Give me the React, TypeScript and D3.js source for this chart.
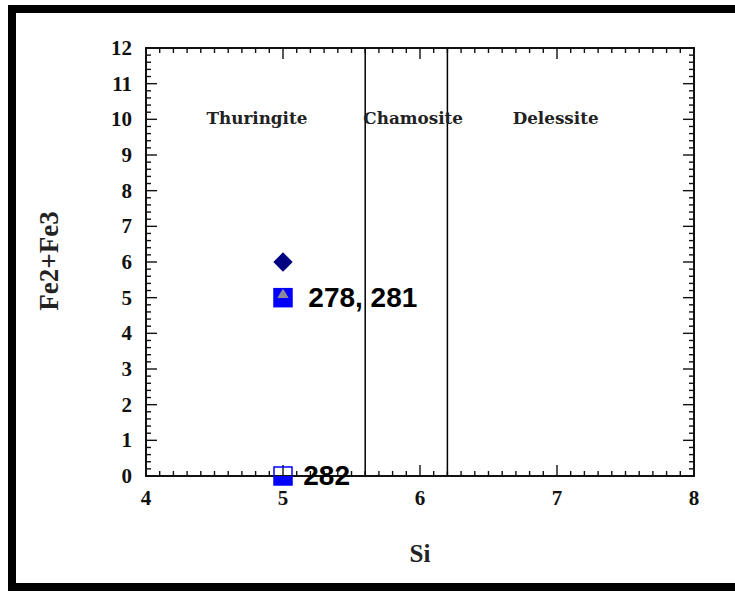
import React from "react";
import * as d3 from "d3";

const xTickValues = [4, 5, 6, 7, 8];
const yTickValues = [0, 1, 2, 3, 4, 5, 6, 7, 8, 9, 10, 11, 12];
const xMinorStep = 0.1;
const yMinorStep = 0.2;

const fieldBoundaries = [5.6, 6.2];
const fieldNames = ["Thuringite", "Chamosite", "Delessite"];
const fieldLabelSi = [4.81, 5.95, 6.99];
const fieldLabelFe = 10;

const diamondSi = [5];
const diamondFe = [6];
const filledSquareSi = [5, 5];
const filledSquareFe = [5, 0];
const openSquareSi = [5, 5];
const openSquareFe = [5, 0];
const triangleSi = [5];
const triangleFe = [5];

const pointLabels = ["278, 281", "282"];
const pointLabelSi = [5.185, 5.148];
const pointLabelFe = [5, 0];

const W = 735;
const H = 592;
const X0 = 146, X1 = 694, Y0 = 476, Y1 = 48;

export default function App() {
  const x = d3.scaleLinear().domain([4, 8]).range([X0, X1]);
  const y = d3.scaleLinear().domain([0, 12]).range([Y0, Y1]);

  const xMinor = d3.range(0, Math.round((8 - 4) / xMinorStep) + 1).map((i) => 4 + i * xMinorStep);
  const yMinor = d3.range(0, Math.round(12 / yMinorStep) + 1).map((i) => i * yMinorStep);
  const isMajor = (v: number) => Math.abs(v - Math.round(v)) < 1e-6;

  const tickColor = "#111";
  const serif = "'Liberation Serif', 'Times New Roman', serif";
  const sans = "'Liberation Sans', Arial, sans-serif";
  const labelSerif = "'DejaVu Serif', serif";

  const sq = 18;
  const diamond = d3.symbol().type(d3.symbolDiamond2).size(240)();

  return (
    <svg width={W} height={H} style={{ position: "absolute", left: 0, top: 0, background: "#fff" }}>
      <rect x={12} y={9} width={1200} height={578} fill="#fff" stroke="#000" strokeWidth={8} />

      {xMinor.map((v, i) => {
        const len = isMajor(v) ? 11 : 5;
        const px = x(v);
        return (
          <g key={"xt" + i} stroke={tickColor} strokeWidth={1.4}>
            <line x1={px} x2={px} y1={Y0} y2={Y0 - len} />
            <line x1={px} x2={px} y1={Y1} y2={Y1 + len} />
          </g>
        );
      })}
      {yMinor.map((v, i) => {
        const len = isMajor(v) ? 11 : 5;
        const py = y(v);
        return (
          <g key={"yt" + i} stroke={tickColor} strokeWidth={1.4}>
            <line x1={X0} x2={X0 + len} y1={py} y2={py} />
            <line x1={X1} x2={X1 - len} y1={py} y2={py} />
          </g>
        );
      })}

      {fieldBoundaries.map((b, i) => (
        <line key={"fb" + i} x1={x(b)} x2={x(b)} y1={y(0)} y2={y(12)} stroke="#000" strokeWidth={1.5} />
      ))}

      <rect x={X0} y={Y1} width={X1 - X0} height={Y0 - Y1} fill="none" stroke="#111" strokeWidth={2} />

      {xTickValues.map((v) => (
        <text key={"xl" + v} x={x(v)} y={Y0 + 29} textAnchor="middle" fontFamily={serif} fontWeight="bold" fontSize={21} fill="#111">
          {v}
        </text>
      ))}
      {yTickValues.map((v) => (
        <text key={"yl" + v} x={X0 - 14} y={y(v) + 7} textAnchor="end" fontFamily={serif} fontWeight="bold" fontSize={21} fill="#111">
          {v}
        </text>
      ))}

      <text x={(X0 + X1) / 2} y={562} textAnchor="middle" fontFamily={serif} fontWeight="bold" fontSize={25} fill="#222">
        Si
      </text>
      <text transform={`translate(58,261) rotate(-90)`} textAnchor="middle" fontFamily={serif} fontWeight="bold" fontSize={27} fill="#222">
        Fe2+Fe3
      </text>

      {fieldNames.map((n, i) => (
        <text key={"fn" + i} x={x(fieldLabelSi[i])} y={y(fieldLabelFe) + 5} textAnchor="middle" fontFamily={labelSerif} fontWeight="bold" fontSize={16.8} fill="#222">
          {n}
        </text>
      ))}

      {diamondSi.map((s, i) => (
        <path key={"dm" + i} d={diamond || ""} transform={`translate(${x(s)},${y(diamondFe[i])})`} fill="#000080" />
      ))}
      {filledSquareSi.map((s, i) => {
        const cx = x(s);
        const cy = y(filledSquareFe[i]);
        const top = Math.max(cy - sq / 2, filledSquareFe[i] === 0 ? Y0 : -Infinity);
        return <rect key={"fs" + i} x={cx - sq / 2} y={top} width={sq} height={cy + sq / 2 - top} fill="#0000ff" />;
      })}
      {triangleSi.map((s, i) => {
        const cx = x(s);
        const cy = y(triangleFe[i]) - 3;
        const tri = d3.symbol().type(d3.symbolTriangle).size(55)();
        return <path key={"tr" + i} d={tri || ""} transform={`translate(${cx},${cy})`} fill="#8a8a9a" />;
      })}
      {openSquareSi.map((s, i) => (
        <rect key={"os" + i} x={x(s) - sq / 2} y={y(openSquareFe[i]) - sq / 2} width={sq} height={sq} fill="none" stroke="#0000ff" strokeWidth={1.5} />
      ))}

      {pointLabels.map((t, i) => (
        <text key={"pl" + i} x={x(pointLabelSi[i])} y={y(pointLabelFe[i]) + 9} fontFamily={sans} fontWeight="bold" fontSize={28} fill="#000">
          {t}
        </text>
      ))}
    </svg>
  );
}
